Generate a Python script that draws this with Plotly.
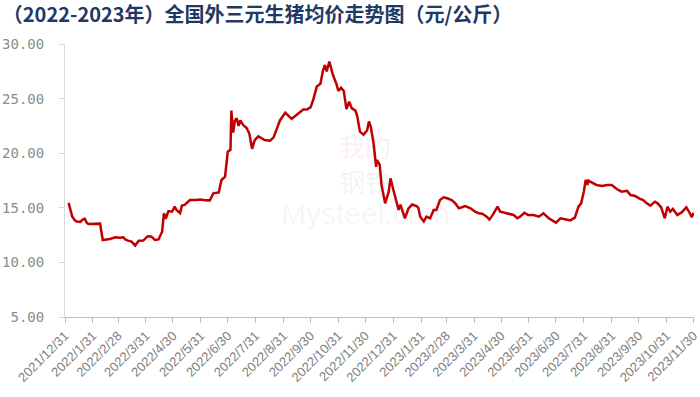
import plotly.graph_objects as go

dates = [
    "2022-01-04", "2022-01-06", "2022-01-08", "2022-01-11", "2022-01-13", "2022-01-17", "2022-01-20",
    "2022-01-22", "2022-01-24", "2022-01-26", "2022-02-01", "2022-02-08", "2022-02-11", "2022-02-15",
    "2022-02-19", "2022-02-25", "2022-03-02", "2022-03-06", "2022-03-08", "2022-03-11", "2022-03-15",
    "2022-03-19", "2022-03-23", "2022-03-28", "2022-04-02", "2022-04-06", "2022-04-10", "2022-04-14",
    "2022-04-18", "2022-04-20", "2022-04-22", "2022-04-25", "2022-04-29", "2022-05-02", "2022-05-04",
    "2022-05-08", "2022-05-10", "2022-05-13", "2022-05-17", "2022-05-19", "2022-05-26", "2022-05-30",
    "2022-06-05", "2022-06-10", "2022-06-14", "2022-06-20", "2022-06-23", "2022-06-27", "2022-06-30",
    "2022-07-03", "2022-07-04", "2022-07-06", "2022-07-08", "2022-07-10", "2022-07-12", "2022-07-14",
    "2022-07-17", "2022-07-21", "2022-07-24", "2022-07-27", "2022-07-30", "2022-08-03", "2022-08-10",
    "2022-08-16", "2022-08-20", "2022-08-23", "2022-08-27", "2022-09-02", "2022-09-05", "2022-09-09",
    "2022-09-13", "2022-09-18", "2022-09-22", "2022-09-26", "2022-09-30", "2022-10-03", "2022-10-07",
    "2022-10-11", "2022-10-14", "2022-10-16", "2022-10-18", "2022-10-21", "2022-10-23", "2022-10-25",
    "2022-10-29", "2022-10-31", "2022-11-03", "2022-11-06", "2022-11-09", "2022-11-12", "2022-11-15",
    "2022-11-19", "2022-11-21", "2022-11-24", "2022-11-28", "2022-12-02", "2022-12-04", "2022-12-06",
    "2022-12-09", "2022-12-12", "2022-12-13", "2022-12-16", "2022-12-18", "2022-12-22", "2022-12-26",
    "2022-12-28", "2022-12-31", "2023-01-03", "2023-01-06", "2023-01-08", "2023-01-11", "2023-01-13",
    "2023-01-17", "2023-01-21", "2023-01-26", "2023-01-28", "2023-01-30", "2023-02-03", "2023-02-06",
    "2023-02-10", "2023-02-14", "2023-02-17", "2023-02-21", "2023-02-25", "2023-03-01", "2023-03-06",
    "2023-03-10", "2023-03-14", "2023-03-19", "2023-03-21", "2023-03-27", "2023-04-01", "2023-04-05",
    "2023-04-09", "2023-04-14", "2023-04-17", "2023-04-21", "2023-04-26", "2023-04-29", "2023-05-04",
    "2023-05-08", "2023-05-14", "2023-05-18", "2023-05-21", "2023-05-26", "2023-05-30", "2023-06-05",
    "2023-06-11", "2023-06-16", "2023-06-22", "2023-06-30", "2023-07-05", "2023-07-10", "2023-07-16",
    "2023-07-21", "2023-07-25", "2023-07-28", "2023-07-31", "2023-08-02", "2023-08-04", "2023-08-05",
    "2023-08-09", "2023-08-14", "2023-08-20", "2023-08-26", "2023-08-31", "2023-09-06", "2023-09-11",
    "2023-09-17", "2023-09-21", "2023-09-26", "2023-10-01", "2023-10-05", "2023-10-09", "2023-10-13",
    "2023-10-18", "2023-10-21", "2023-10-25", "2023-10-29", "2023-11-01", "2023-11-04", "2023-11-07",
    "2023-11-12", "2023-11-17", "2023-11-22", "2023-11-25", "2023-11-28", "2023-11-30",
]

prices = [
    15.45, 14.80, 14.20, 13.85, 13.75, 13.70, 13.95,
    14.00, 13.65, 13.52, 13.52, 13.55, 12.05, 12.10,
    12.15, 12.30, 12.25, 12.30, 12.10, 11.99, 11.90,
    11.55, 11.99, 12.00, 12.40, 12.38, 12.05, 12.10,
    12.81, 14.50, 14.00, 14.70, 14.64, 15.10, 14.80,
    14.50, 15.20, 15.26, 15.56, 15.71, 15.71, 15.75,
    15.70, 15.68, 16.33, 16.40, 17.55, 17.85, 20.14,
    20.30, 23.90, 21.90, 23.00, 23.20, 22.50, 23.00,
    22.60, 22.30, 21.80, 20.40, 21.20, 21.55, 21.20,
    21.15, 21.45, 22.12, 23.00, 23.71, 23.50, 23.15,
    23.40, 23.75, 24.00, 24.00, 24.20, 24.87, 26.10,
    26.35, 27.60, 28.08, 27.50, 28.40, 27.80, 27.16,
    26.30, 25.70, 26.00, 25.70, 24.05, 24.72, 24.10,
    23.90, 23.40, 21.97, 21.70, 22.10, 22.90, 22.43,
    21.00, 18.76, 19.38, 18.92, 17.10, 15.41, 16.48,
    17.70, 16.70, 15.60, 14.80, 15.30, 14.50, 14.04,
    14.95, 15.30, 15.15, 15.00, 14.19, 13.75, 14.19,
    14.04, 14.80, 14.80, 15.71, 15.96, 15.87, 15.71,
    15.41, 14.95, 15.10, 15.15, 14.95, 14.64, 14.50,
    14.45, 14.19, 13.92, 14.40, 15.10, 14.64, 14.55,
    14.43, 14.34, 14.04, 14.19, 14.55, 14.34, 14.34,
    14.19, 14.50, 14.04, 13.64, 14.04, 13.95, 13.85,
    14.10, 15.10, 15.41, 16.50, 17.55, 17.10, 17.48,
    17.30, 17.09, 17.00, 17.09, 17.08, 16.70, 16.48,
    16.55, 16.17, 16.08, 15.85, 15.70, 15.41, 15.20,
    15.56, 15.41, 15.04, 14.04, 15.10, 14.64, 14.90,
    14.34, 14.60, 15.04, 14.64, 14.13, 14.55,
]

tick_dates = [
    "2021-12-31", "2022-01-31", "2022-02-28", "2022-03-31", "2022-04-30", "2022-05-31",
    "2022-06-30", "2022-07-31", "2022-08-31", "2022-09-30", "2022-10-31", "2022-11-30",
    "2022-12-31", "2023-01-31", "2023-02-28", "2023-03-31", "2023-04-30", "2023-05-31",
    "2023-06-30", "2023-07-31", "2023-08-31", "2023-09-30", "2023-10-31", "2023-11-30",
]
tick_labels = [
    "2021/12/31", "2022/1/31", "2022/2/28", "2022/3/31", "2022/4/30", "2022/5/31",
    "2022/6/30", "2022/7/31", "2022/8/31", "2022/9/30", "2022/10/31", "2022/11/30",
    "2022/12/31", "2023/1/31", "2023/2/28", "2023/3/31", "2023/4/30", "2023/5/31",
    "2023/6/30", "2023/7/31", "2023/8/31", "2023/9/30", "2023/10/31", "2023/11/30",
]
y_ticks = [5, 10, 15, 20, 25, 30]
y_labels = ["5.00", "10.00", "15.00", "20.00", "25.00", "30.00"]

title_text = "（2022-2023年）全国外三元生猪均价走势图（元/公斤）"

fig = go.Figure()
fig.add_trace(go.Scatter(
    x=dates, y=prices, mode="lines",
    line=dict(color="#C00000", width=2.5),
    hoverinfo="x+y", showlegend=False,
))

# faint watermark
fig.add_annotation(text="我的", xref="paper", yref="paper", x=0.477, y=0.63,
                   showarrow=False, font=dict(family="Noto Sans CJK SC", size=26, color="rgba(200,40,40,0.08)"))
fig.add_annotation(text="钢铁", xref="paper", yref="paper", x=0.477, y=0.50,
                   showarrow=False, font=dict(family="Noto Sans CJK SC", size=26, color="rgba(40,60,140,0.07)"))
fig.add_annotation(text="Mysteel.com", xref="paper", yref="paper", x=0.477, y=0.38,
                   showarrow=False, font=dict(family="Liberation Sans", size=30, color="rgba(120,120,120,0.07)"))

fig.update_layout(
    width=700, height=397,
    margin=dict(l=65, r=6, t=44, b=80),
    paper_bgcolor="white", plot_bgcolor="white",
    title=dict(text=title_text, x=0.004, xanchor="left", y=0.962, yanchor="middle",
               font=dict(family="Noto Sans CJK SC", size=20, color="#1F3864", weight="bold")),
    xaxis=dict(
        type="date", range=["2021-12-31", "2023-11-30 12:00"], automargin=False,
        tickmode="array", tickvals=tick_dates, ticktext=tick_labels,
        tickangle=-45, tickfont=dict(family="Liberation Sans", size=13, color="#7F7F7F"),
        ticklabeloverflow="allow",
        showgrid=False, zeroline=False,
        showline=True, linecolor="#BFBFBF", linewidth=1,
        ticks="outside", ticklen=5, tickcolor="#BFBFBF",
    ),
    yaxis=dict(
        range=[5, 30], automargin=False, tickmode="array", tickvals=y_ticks, ticktext=y_labels,
        tickfont=dict(family="DejaVu Sans Mono", size=14, color="#8C8C8C"),
        ticklabelstandoff=12,
        showgrid=False, zeroline=False,
        showline=True, linecolor="#D9D9D9", linewidth=1,
        ticks="outside", ticklen=5, tickcolor="#D9D9D9",
    ),
)

fig.write_html("out.html")
